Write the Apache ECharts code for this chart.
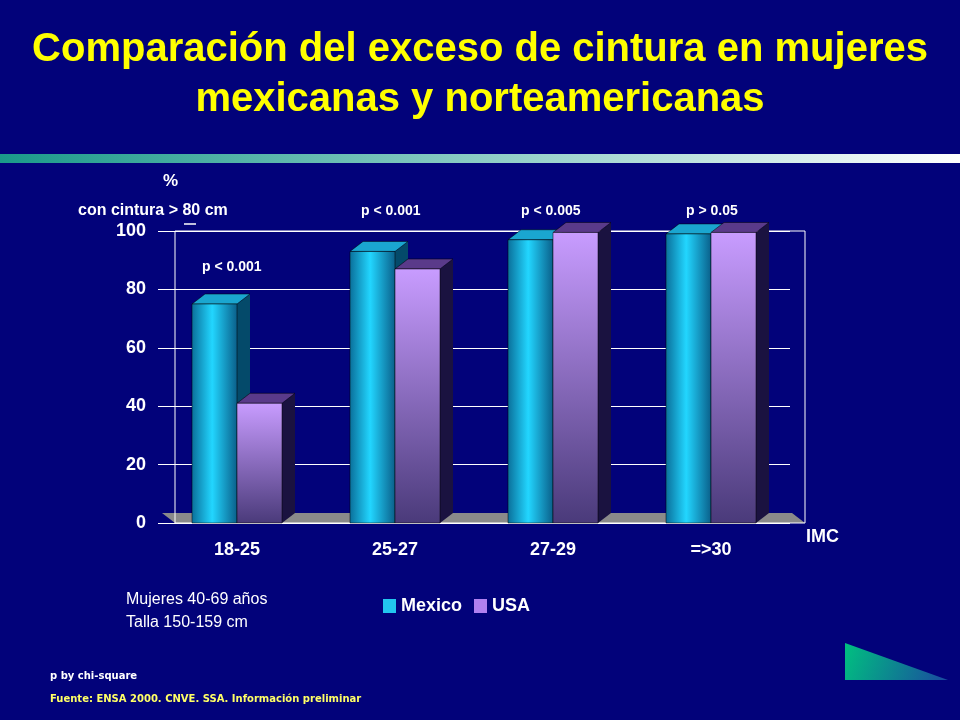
<!DOCTYPE html>
<html><head><meta charset="utf-8">
<script src="https://cdn.jsdelivr.net/npm/echarts@6/dist/echarts.min.js"></script>
<style>html,body{margin:0;padding:0;background:#02027a}#c{width:960px;height:720px}</style>
</head><body><div id="c"></div>
<script>
var categories = ['18-25','25-27','27-29','=>30'];
var mexico = [75, 93, 97, 99];
var usa = [41, 87, 99.5, 99.5];
var pLabels = ['p < 0.001','p < 0.001','p < 0.005','p > 0.05'];
var yTicks = [0,20,40,60,80,100];

var chart = echarts.init(document.getElementById('c'));
var BW = 45, DX = 13, DY = 10;
function makeRender(offset, front, top, side){
  return function(params, api){
    var i = api.value(0), v = api.value(1);
    var p = api.coord([i, v]), b = api.coord([i, 0]);
    var x0 = p[0] + offset, x1 = x0 + BW;
    return {type:'group', children:[
      {type:'polygon', shape:{points:[[x1,p[1]],[x1+DX,p[1]-DY],[x1+DX,b[1]-DY],[x1,b[1]]]}, style:{fill:side}},
      {type:'polygon', shape:{points:[[x0,p[1]],[x0+DX,p[1]-DY],[x1+DX,p[1]-DY],[x1,p[1]]]}, style:{fill:top, stroke:'#000', lineWidth:0.5}},
      {type:'rect', shape:{x:x0, y:p[1], width:BW, height:b[1]-p[1]}, style:{fill:front, stroke:'#000', lineWidth:0.5}}
    ]};
  };
}
var gMex = new echarts.graphic.LinearGradient(0,0,1,0,[{offset:0,color:'#0a6f9a'},{offset:0.45,color:'#22d6ff'},{offset:1,color:'#0a5f8a'}]);
var gUsa = new echarts.graphic.LinearGradient(0,0,0,1,[{offset:0,color:'#c89cff'},{offset:1,color:'#4a3a7a'}]);
var FF = 'Liberation Sans Narrow, Liberation Sans';
function sub(t, fs){ return {text:t, fill:'#fff', fontWeight:'bold', fontSize:fs||14, fontFamily:FF}; }
var graphics = [
  {type:'rect', shape:{x:0,y:154,width:960,height:9}, style:{fill:new echarts.graphic.LinearGradient(0,0,1,0,[{offset:0,color:'#1a9a8a'},{offset:1,color:'#ffffff'}])}},
  {type:'polygon', shape:{points:[[175,523],[805,523],[792,513],[162,513]]}, style:{fill:'#8a8a8a'}, z:-1},
  {type:'rect', shape:{x:175,y:231,width:630,height:292}, style:{fill:'none', stroke:'#ffffff', lineWidth:1}, z:-1},
  {type:'text', left:163, top:173, style:sub('%',17)},
  {type:'text', left:78, top:203, style:sub('con cintura > 80 cm',16)},
  {type:'line', shape:{x1:184,y1:224,x2:196,y2:224}, style:{stroke:'#fff', lineWidth:1.5}},
  {type:'text', left:202, top:260, style:sub(pLabels[0])},
  {type:'text', left:361, top:204, style:sub(pLabels[1])},
  {type:'text', left:521, top:204, style:sub(pLabels[2])},
  {type:'text', left:686, top:204, style:sub(pLabels[3])},
  {type:'text', left:806, top:528, style:sub('IMC',18)},
  {type:'text', left:126, top:588, style:{text:'Mujeres 40-69 años\nTalla 150-159 cm', fill:'#fff', fontSize:16, lineHeight:23, fontFamily:FF}},
  {type:'text', left:50, top:671, style:{text:'p by chi-square', fill:'#fff', fontSize:10, fontWeight:'bold', fontFamily:'DejaVu Sans'}},
  {type:'text', left:50, top:694, style:{text:'Fuente: ENSA 2000. CNVE. SSA. Información preliminar', fill:'#ffff66', fontSize:10, fontWeight:'bold', fontFamily:'DejaVu Sans'}},
  {type:'polygon', shape:{points:[[845,643],[845,680],[948,680]]}, style:{fill:new echarts.graphic.LinearGradient(0,0,1,1,[{offset:0,color:'#00c080'},{offset:1,color:'#1a4aa0'}])}}
];
chart.setOption({
  backgroundColor:'#02027a',
  title:{text:'Comparación del exceso de cintura en mujeres\nmexicanas y norteamericanas', left:'center', top:20,
    textStyle:{color:'#ffff00', fontSize:40, fontWeight:'bold', lineHeight:50, fontFamily:FF,
      textShadowColor:'#000', textShadowOffsetX:3, textShadowOffsetY:3, textShadowBlur:0}},
  legend:{left:378, top:592, itemWidth:13, itemHeight:14, itemGap:12,
    textStyle:{color:'#fff', fontWeight:'bold', fontSize:18, fontFamily:FF},
    data:[{name:'Mexico', icon:'rect', itemStyle:{color:'#22c6ef'}},{name:'USA', icon:'rect', itemStyle:{color:'#b080f0'}}]},
  grid:{left:158, right:170, top:231, bottom:197},
  xAxis:{type:'category', data:categories, axisTick:{show:false}, axisLine:{show:false},
    axisLabel:{color:'#fff', fontWeight:'bold', fontSize:18, margin:18, fontFamily:FF},
    splitLine:{show:false}},
  yAxis:{type:'value', min:0, max:100, interval:20,
    axisLine:{show:false}, axisTick:{show:false},
    axisLabel:{color:'#fff', fontWeight:'bold', fontSize:18, margin:12, fontFamily:FF, formatter:function(v){return yTicks.indexOf(v)>=0?v:'';}},
    splitLine:{lineStyle:{color:'#fff', width:1}}},
  graphic:graphics,
  series:[
    {name:'Mexico', type:'custom', data:mexico.map(function(v,i){return [i,v];}), renderItem:makeRender(-BW, gMex, '#1aa6d0', '#044a6a')},
    {name:'USA', type:'custom', data:usa.map(function(v,i){return [i,v];}), renderItem:makeRender(0, gUsa, '#5a3a8a', '#1a1240')}
  ]
});
</script></body></html>
